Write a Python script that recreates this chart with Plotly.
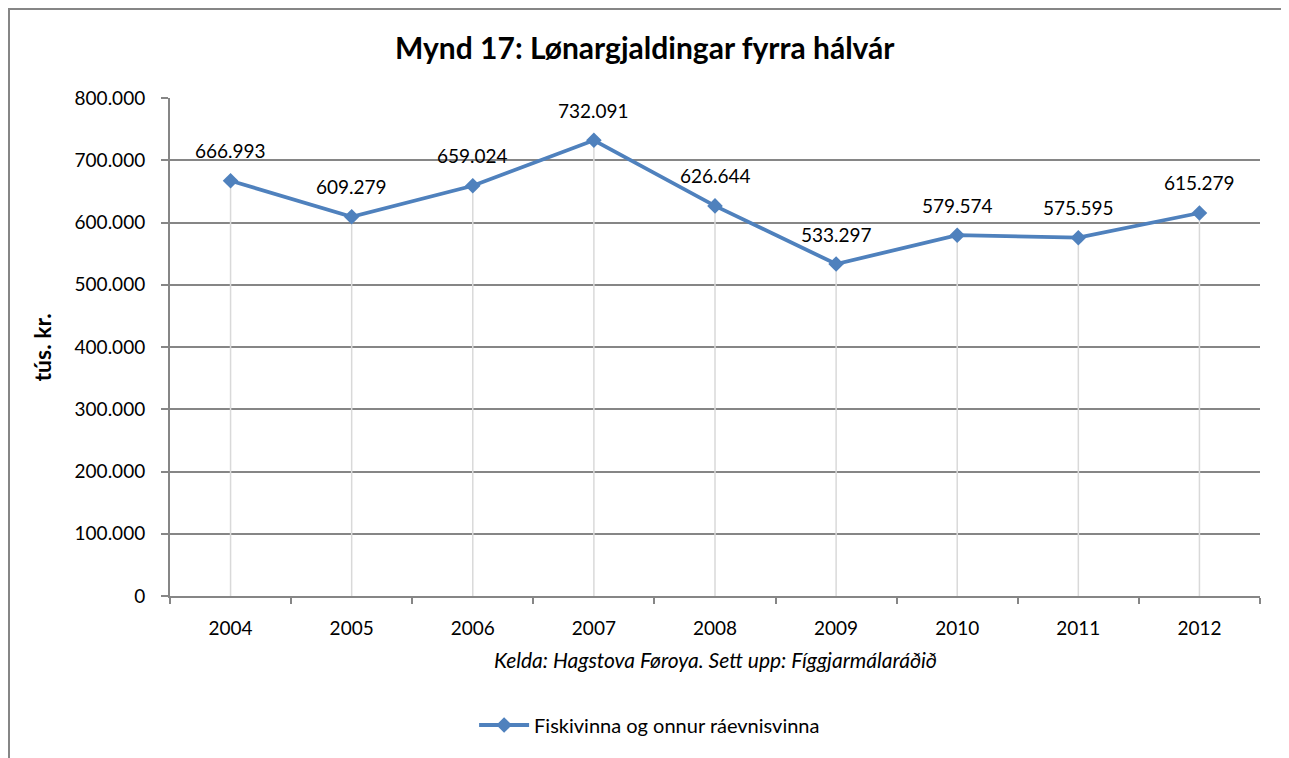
import plotly.graph_objects as go

years = ["2004", "2005", "2006", "2007", "2008", "2009", "2010", "2011", "2012"]
values = [666993, 609279, 659024, 732091, 626644, 533297, 579574, 575595, 615279]
series_name = "Fiskivinna og onnur ráevnisvinna"
y_ticks = [0, 100000, 200000, 300000, 400000, 500000, 600000, 700000, 800000]

FONT = "Lato, 'Open Sans', sans-serif"
BLUE = "#4F81BD"

def fmt(v):
    return f"{v:,}".replace(",", ".")

xpos = list(range(len(years)))
boundaries = [i - 0.5 for i in range(len(years) + 1)]

fig = go.Figure()
# drop lines from each point down to the axis
fig.add_trace(go.Scatter(x=xpos, y=values, mode="markers", marker=dict(size=0.1, opacity=0),
                         error_y=dict(type="data", symmetric=False, array=[0] * len(values),
                                      arrayminus=values, width=0, color="#D9D9D9", thickness=1.5),
                         showlegend=False, hoverinfo="skip"))
fig.add_trace(go.Scatter(x=xpos, y=values, mode="lines+markers", name=series_name,
                         line=dict(color=BLUE, width=3.8),
                         marker=dict(symbol="diamond", size=12, color=BLUE)))

for xi, v in zip(xpos, values):
    fig.add_annotation(x=xi, y=v, text=fmt(v), showarrow=False, yshift=30,
                       font=dict(family=FONT, size=19, color="#000000"))

fig.add_annotation(xref="paper", yref="paper", x=-0.117, y=0.5, text="<b>tús. kr.</b>",
                   textangle=-90, showarrow=False, xanchor="center", yanchor="middle",
                   font=dict(family=FONT, size=23, color="#000000"))
fig.add_annotation(xref="paper", yref="paper", x=0.5, y=-0.1285, xanchor="center", yanchor="middle",
                   text="<i>Kelda: Hagstova Føroya. Sett upp: Fíggjarmálaráðið</i>",
                   showarrow=False, font=dict(family=FONT, size=21, color="#000000"))
fig.add_annotation(xref="paper", yref="paper", x=0.436, y=1.1024, xanchor="center", yanchor="middle",
                   text="<b>Mynd 17: Lønargjaldingar fyrra hálvár</b>",
                   showarrow=False, font=dict(family=FONT, size=30, color="#000000"))

# outer chart border
fig.add_shape(type="rect", xref="paper", yref="paper", x0=-0.1477, x1=1.0252, y0=-0.34, y1=1.1787,
              line=dict(color="#868686", width=2), fillcolor="rgba(0,0,0,0)", layer="below")

fig.update_layout(
    width=1281, height=750,
    margin=dict(l=162, r=29, t=90, b=162, autoexpand=False),
    paper_bgcolor="white", plot_bgcolor="white",
    font=dict(family=FONT, size=19, color="#000000"),
    showlegend=True,
    legend=dict(orientation="h", xanchor="center", x=0.44, yanchor="middle", y=-0.259,
                font=dict(family=FONT, size=20, color="#000000"), itemwidth=50),
    xaxis=dict(range=[-0.5, len(years) - 0.5], tickvals=xpos, ticktext=years, ticks="",
               ticklabelstandoff=14, automargin=False,
               minor=dict(tickvals=boundaries, ticks="outside", ticklen=6, tickcolor="#868686",
                          tickwidth=2, showgrid=False),
               showgrid=False, showline=True, linecolor="#868686", linewidth=2,
               tickfont=dict(family=FONT, size=19), zeroline=False),
    yaxis=dict(range=[0, 800000], tickvals=y_ticks, ticktext=[fmt(t) for t in y_ticks],
               showgrid=True, automargin=False,
               gridcolor="#868686", gridwidth=1.5, showline=True, linecolor="#868686", linewidth=2,
               ticks="outside", ticklen=7, tickcolor="#868686", tickwidth=2, zeroline=False,
               ticklabelstandoff=12, tickfont=dict(family=FONT, size=19)),
)

fig.write_html("out.html")
